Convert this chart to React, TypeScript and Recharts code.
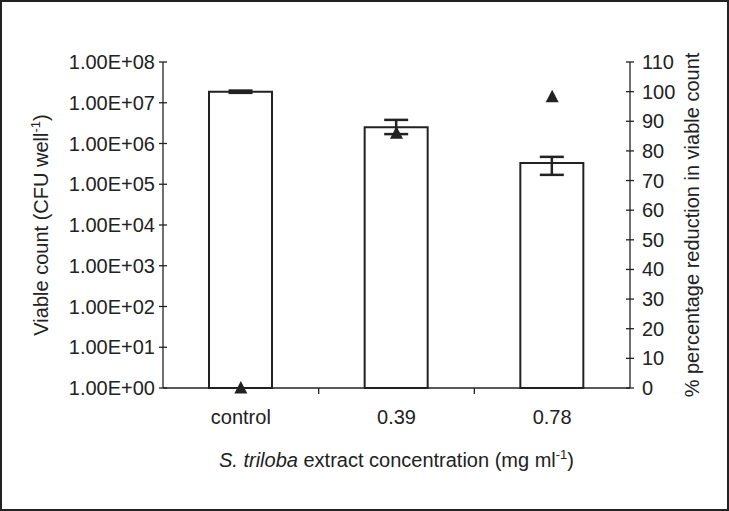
import React from 'react';
import { ComposedChart, Bar, Scatter, XAxis, YAxis, ErrorBar, Label } from 'recharts';

const categories = ['control', '0.39', '0.78'];
const viableCount = [1.87e7, 2.5e6, 3.3e5];
const viableErrLow = [1.2e6, 0.8e6, 1.6e5];
const viableErrHigh = [1.2e6, 1.3e6, 1.4e5];
const reductionPct = [0, 86, 98.3];
const leftTicks = [1, 10, 100, 1e3, 1e4, 1e5, 1e6, 1e7, 1e8];
const rightTicks = [0, 10, 20, 30, 40, 50, 60, 70, 80, 90, 100, 110];

const data = categories.map((c, i) => ({
  cat: c,
  count: viableCount[i],
  err: [viableErrLow[i], viableErrHigh[i]],
  pct: reductionPct[i],
}));

const W = 729;
const H = 511;
const LEFT_W = 163;
const RIGHT_W = 99;
const TOP = 62;
const BOTTOM_H = 123;
const PLOT_W = W - LEFT_W - RIGHT_W;
const INK = '#222';
const FONT = '"Liberation Sans", Arial, sans-serif';
const FS = 20;

const fmtExp = (v: number) => {
  const e = Math.round(Math.log10(v));
  return `1.00E+${String(e).padStart(2, '0')}`;
};

const LeftTick = (p: any) => {
  const { x, y, payload } = p;
  return (
    <g>
      <line x1={x + 4} x2={x + 12} y1={y} y2={y} stroke={INK} strokeWidth={1.3} />
      <text x={x} y={y + 7} textAnchor="end" fontSize={FS} fontFamily={FONT} fill={INK}>
        {fmtExp(payload.value)}
      </text>
    </g>
  );
};

const RightTick = (p: any) => {
  const { x, y, payload } = p;
  return (
    <g>
      <line x1={x - 12} x2={x - 4} y1={y} y2={y} stroke={INK} strokeWidth={1.3} />
      <text x={x + 4} y={y + 7} textAnchor="start" fontSize={FS} fontFamily={FONT} fill={INK}>
        {payload.value}
      </text>
    </g>
  );
};

const band = PLOT_W / categories.length;

const BottomTick = (p: any) => {
  const { x, y, payload, index } = p;
  return (
    <g>
      {index < categories.length - 1 && (
        <line x1={x + band / 2} x2={x + band / 2} y1={y - 6} y2={y} stroke={INK} strokeWidth={1.3} />
      )}
      <text x={x} y={y + 30} textAnchor="middle" fontSize={FS} fontFamily={FONT} fill={INK}>
        {payload.value}
      </text>
    </g>
  );
};

const Triangle = (p: any) => {
  const { cx, cy } = p;
  if (cx == null || cy == null) return null;
  return <path d={`M${cx},${cy - 7} L${cx + 6.5},${cy + 5.5} L${cx - 6.5},${cy + 5.5} Z`} fill={INK} />;
};

const LeftLabel = (p: any) => {
  const { x, y, height } = p.viewBox;
  const cx = x + 41;
  const cy = y + height / 2;
  return (
    <text transform={`rotate(-90 ${cx} ${cy})`} x={cx} y={cy + 7} textAnchor="middle" fontSize={FS} fontFamily={FONT} fill={INK}>
      Viable count (CFU well
      <tspan dy={-8} fontSize={13}>-1</tspan>
      <tspan dy={8}>)</tspan>
    </text>
  );
};

const RightLabel = (p: any) => {
  const { x, y, height } = p.viewBox;
  const cx = x + 62;
  const cy = y + height / 2;
  return (
    <text transform={`rotate(-90 ${cx} ${cy})`} x={cx} y={cy + 7} textAnchor="middle" fontSize={FS} fontFamily={FONT} fill={INK}>
      % percentage reduction in viable count
    </text>
  );
};

const BottomLabel = (p: any) => {
  const { x, y, width } = p.viewBox;
  return (
    <text x={x + width / 2} y={y + 79} textAnchor="middle" fontSize={FS} fontFamily={FONT} fill={INK}>
      <tspan fontStyle="italic">S. triloba</tspan>
      <tspan> extract concentration (mg ml</tspan>
      <tspan dy={-8} fontSize={13}>-1</tspan>
      <tspan dy={8}>)</tspan>
    </text>
  );
};

export default function App() {
  return (
    <div style={{ position: 'absolute', left: 0, top: 0, width: W, height: H, background: '#fff' }}>
      <ComposedChart
        width={W}
        height={H}
        data={data}
        margin={{ top: TOP, right: 0, bottom: 0, left: 0 }}
      >
        <XAxis
          dataKey="cat"
          type="category"
          height={BOTTOM_H}
          axisLine={{ stroke: INK, strokeWidth: 1.3 }}
          tickLine={false}
          tickSize={6}
          tickMargin={0}
          tick={<BottomTick />}
          interval={0}
        >
          <Label content={<BottomLabel />} />
        </XAxis>
        <YAxis
          yAxisId="left"
          orientation="left"
          scale="log"
          type="number"
          domain={[1, 1e8]}
          ticks={leftTicks}
          width={LEFT_W}
          axisLine={{ stroke: INK, strokeWidth: 1.3 }}
          tickLine={false}
          tickSize={4}
          tickMargin={4}
          tick={<LeftTick />}
          interval={0}
        >
          <Label content={<LeftLabel />} />
        </YAxis>
        <YAxis
          yAxisId="right"
          orientation="right"
          type="number"
          domain={[0, 110]}
          ticks={rightTicks}
          width={RIGHT_W}
          axisLine={{ stroke: INK, strokeWidth: 1.3 }}
          tickLine={false}
          tickSize={4}
          tickMargin={4}
          tick={<RightTick />}
          interval={0}
        >
          <Label content={<RightLabel />} />
        </YAxis>
        <Bar
          yAxisId="left"
          dataKey="count"
          barSize={63}
          fill="#fff"
          stroke={INK}
          strokeWidth={2}
          isAnimationActive={false}
        >
          <ErrorBar dataKey="err" width={12} stroke={INK} strokeWidth={2.5} />
        </Bar>
        <Scatter
          yAxisId="right"
          dataKey="pct"
          shape={<Triangle />}
          isAnimationActive={false}
        />
      </ComposedChart>
      <div
        style={{
          position: 'absolute',
          left: 0,
          top: 0,
          width: W,
          height: H,
          border: `2px solid ${INK}`,
          boxSizing: 'border-box',
          pointerEvents: 'none',
        }}
      />
    </div>
  );
}
